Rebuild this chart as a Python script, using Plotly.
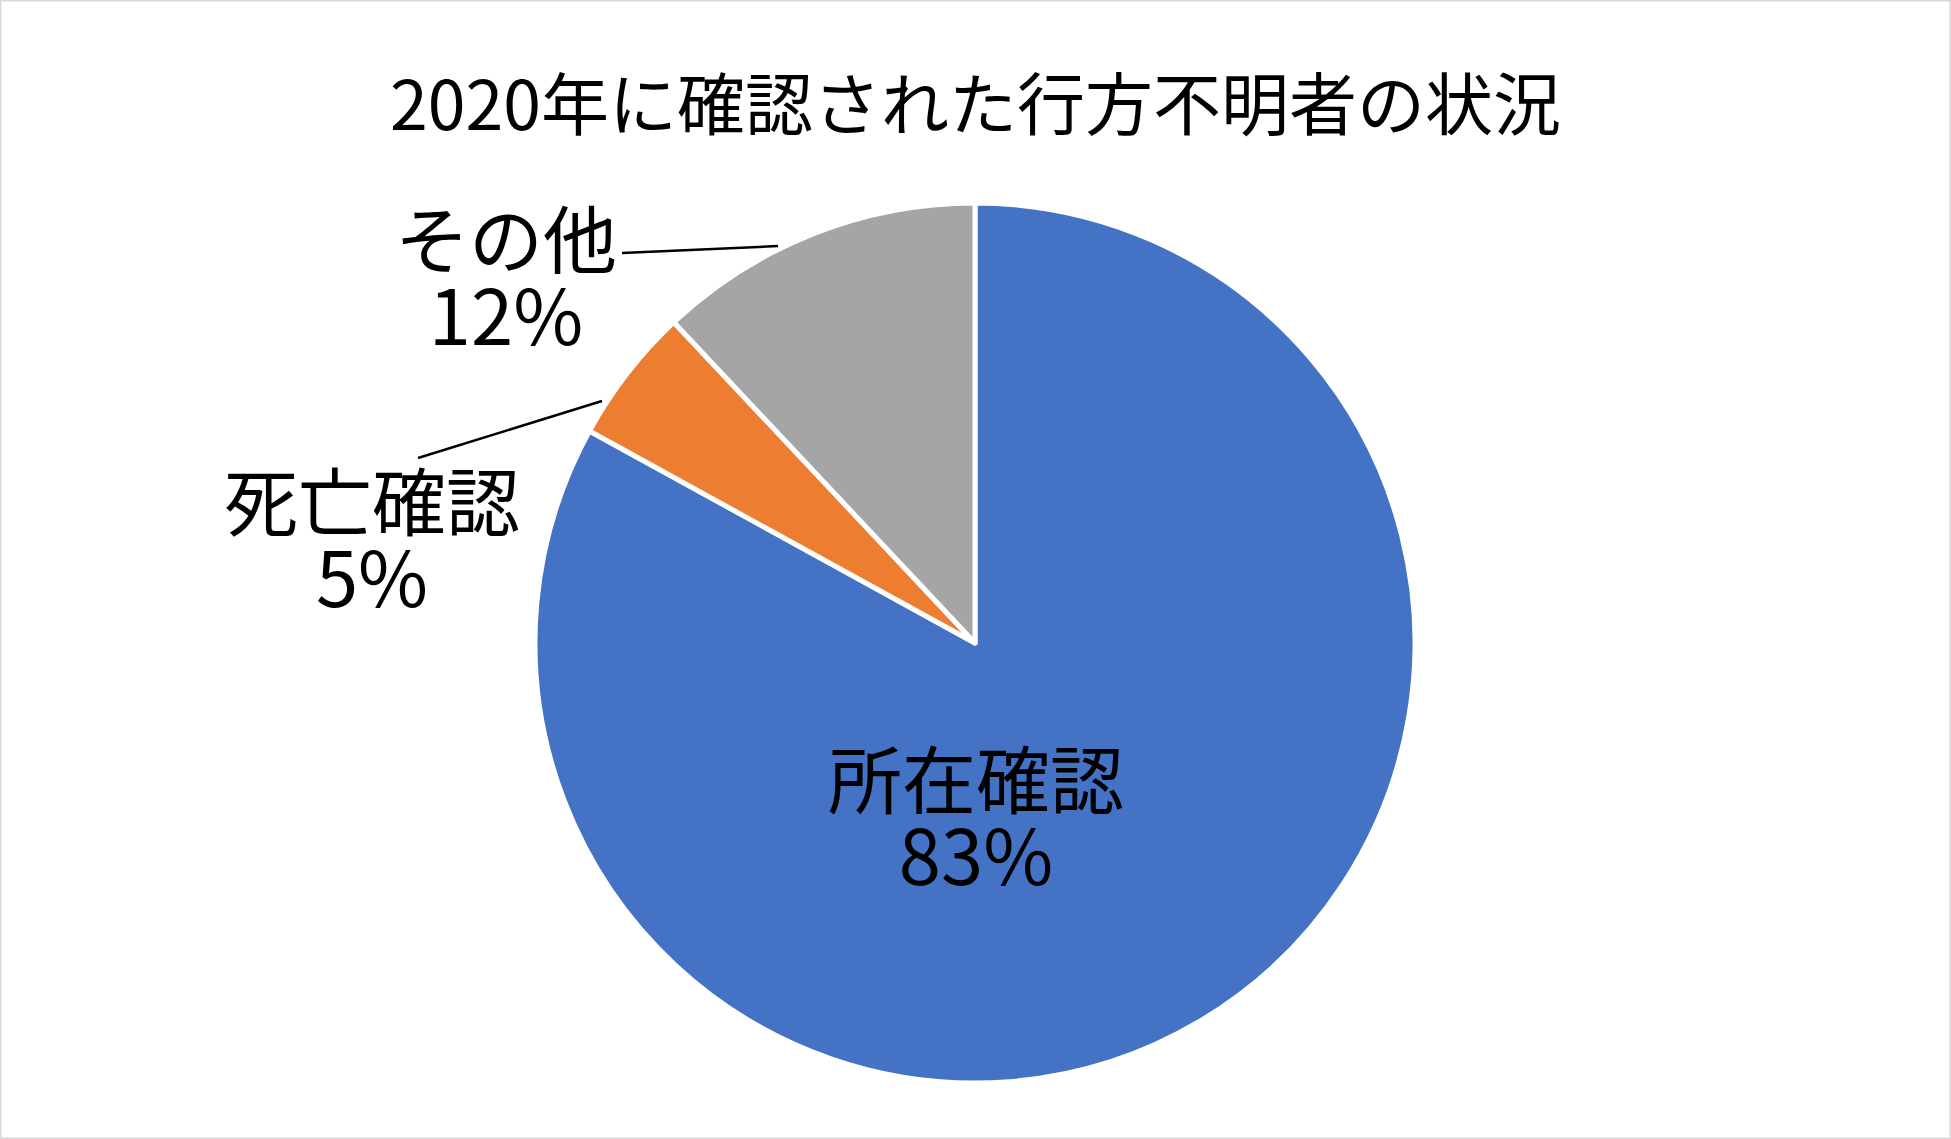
import plotly.graph_objects as go

# ---- data ----
categories = ["所在確認", "死亡確認", "その他"]
percent_values = [83, 5, 12]
slice_colors = ["#4472C4", "#ED7D31", "#A5A5A5"]
title_text = "2020年に確認された行方不明者の状況"

W, H = 1951, 1139
FONT = "Noto Sans CJK JP"

def px(x):
    return x / W

def py(y):
    return 1 - y / H

# pie geometry (pixels)
cx, cy, r = 975, 643, 440

fig = go.Figure(
    go.Pie(
        labels=categories,
        values=percent_values,
        marker=dict(colors=slice_colors, line=dict(color="white", width=5)),
        sort=False,
        direction="clockwise",
        rotation=0,
        textinfo="none",
        hoverinfo="label+percent",
        showlegend=False,
        domain=dict(x=[px(cx - r), px(cx + r)], y=[py(cy + r), py(cy - r)]),
    )
)

# label block centres (pixels)
label_pos = {
    "所在確認": (976, 814),
    "死亡確認": (372, 536),
    "その他": (506, 274),
}

annotations = []
for cat, val in zip(categories, percent_values):
    x, y = label_pos[cat]
    annotations.append(dict(
        x=px(x), y=py(y), xref="paper", yref="paper",
        text=f"<span style='font-size:74px'>{cat}</span><br>"
             f"<span style='font-size:76px'>{val}%</span>",
        showarrow=False, xanchor="center", yanchor="middle", align="center",
        font=dict(family=FONT, size=59, color="black")))

annotations.append(dict(x=px(975), y=py(101), xref="paper", yref="paper",
                        text=title_text, showarrow=False, xanchor="center", yanchor="middle",
                        font=dict(family=FONT, size=68, color="black")))

leader_lines = [((622, 253), (778, 246)), ((418, 458), (602, 401))]
shapes = []
for (x0, y0), (x1, y1) in leader_lines:
    shapes.append(dict(type="line", xref="paper", yref="paper",
                       x0=px(x0), y0=py(y0), x1=px(x1), y1=py(y1),
                       line=dict(color="black", width=2.5)))
shapes.append(dict(type="rect", xref="paper", yref="paper", x0=0, y0=0, x1=1, y1=1,
                   line=dict(color="#D9D9D9", width=3)))

fig.update_layout(
    width=W, height=H,
    margin=dict(l=0, r=0, t=0, b=0),
    paper_bgcolor="white",
    plot_bgcolor="white",
    annotations=annotations,
    shapes=shapes,
    font=dict(family=FONT),
)

fig.write_html("out.html", config={"displayModeBar": False},
               post_script="document.body.style.margin='0';document.body.style.overflow='hidden';")
